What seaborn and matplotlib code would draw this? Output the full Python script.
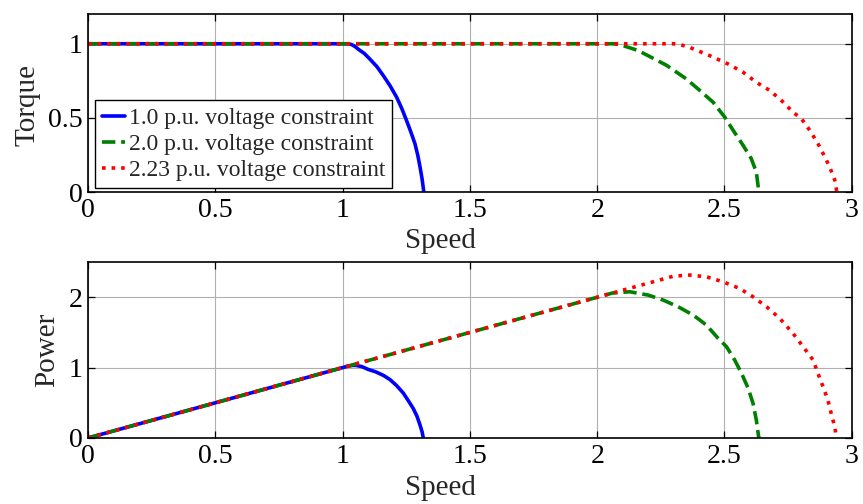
import matplotlib
matplotlib.use("Agg")
import matplotlib.pyplot as plt
import seaborn as sns

# ── data (speed in p.u.) ─────────────────────────────────────
spd_t_10 = [0, 1.02, 1.035, 1.05, 1.061, 1.085, 1.107, 1.135, 1.160, 1.187,
            1.212, 1.232, 1.251, 1.268, 1.284, 1.295, 1.304, 1.312, 1.319]
torque_10 = [1, 1, 0.995, 0.98, 0.964, 0.935, 0.897, 0.845, 0.785, 0.715,
             0.640, 0.565, 0.483, 0.405, 0.327, 0.25, 0.170, 0.09, 0.0]

spd_t_20 = [0, 2.06, 2.08, 2.102, 2.16, 2.213, 2.272, 2.350, 2.403, 2.455, 2.501,
            2.534, 2.573, 2.605, 2.625, 2.634, 2.637]
torque_20 = [1, 1, 0.997, 0.987, 0.955, 0.908, 0.855, 0.763, 0.685, 0.606, 0.505,
             0.416, 0.315, 0.226, 0.136, 0.013, 0.0]

spd_t_223 = [0, 2.30, 2.33, 2.364, 2.443, 2.515, 2.573, 2.625, 2.678, 2.724, 2.769,
             2.802, 2.835, 2.867, 2.894, 2.913, 2.933, 2.939, 2.941]
torque_223 = [1, 1, 0.992, 0.975, 0.919, 0.863, 0.808, 0.740, 0.685, 0.617, 0.539,
              0.495, 0.416, 0.327, 0.237, 0.170, 0.081, 0.025, 0.0]

spd_p_10 = [0, 1.02, 1.035, 1.05, 1.075, 1.10, 1.13, 1.16, 1.186, 1.212,
            1.238, 1.258, 1.277, 1.292, 1.304, 1.312, 1.317]
power_10 = [0, 1.02, 1.03, 1.033, 1.015, 0.975, 0.94, 0.89, 0.83, 0.745,
            0.64, 0.53, 0.422, 0.31, 0.185, 0.09, 0.0]

spd_p_20 = [0, 2.06, 2.128, 2.200, 2.259, 2.318, 2.377, 2.429, 2.475, 2.508,
            2.540, 2.567, 2.593, 2.612, 2.625, 2.634, 2.637]
power_20 = [0, 2.06, 2.078, 2.031, 1.960, 1.865, 1.747, 1.605, 1.416, 1.297,
            1.108, 0.919, 0.706, 0.493, 0.256, 0.018, 0.0]

spd_p_223 = [0, 2.30, 2.364, 2.429, 2.494, 2.559, 2.612, 2.665, 2.717, 2.769,
             2.809, 2.848, 2.867, 2.887, 2.906, 2.919, 2.933, 2.937, 2.941]
power_223 = [0, 2.30, 2.315, 2.291, 2.220, 2.126, 2.007, 1.865, 1.700, 1.487,
             1.297, 1.108, 0.919, 0.729, 0.540, 0.351, 0.161, 0.067, 0.0]

labels = ["1.0 p.u. voltage constraint",
          "2.0 p.u. voltage constraint",
          "2.23 p.u. voltage constraint"]
x_ticks = [0, 0.5, 1, 1.5, 2, 2.5, 3]
torque_ticks = [0, 0.5, 1]
power_ticks = [0, 1, 2]

# ── style ────────────────────────────────────────────────────
sns.set_style("ticks")
plt.rcParams['font.family'] = ['Liberation Serif', 'DejaVu Serif']

fig = plt.figure(figsize=(8.63, 5.04), dpi=100)
ax1 = fig.add_axes([0.102, 0.619, 0.885, 0.353])
ax2 = fig.add_axes([0.102, 0.131, 0.885, 0.349])

styles = [dict(color='blue', linestyle='-'),
          dict(color='green', linestyle='--'),
          dict(color='red', linestyle=':')]
lw = 2.6

torque_sets = [(spd_t_10, torque_10), (spd_t_20, torque_20), (spd_t_223, torque_223)]
power_sets = [(spd_p_10, power_10), (spd_p_20, power_20), (spd_p_223, power_223)]

for (x, y), st, lab in zip(torque_sets, styles, labels):
    sns.lineplot(x=x, y=y, ax=ax1, sort=False, linewidth=lw, label=lab,
                 dash_capstyle='butt', **st)
for (x, y), st in zip(power_sets, styles):
    sns.lineplot(x=x, y=y, ax=ax2, sort=False, linewidth=lw, legend=False,
                 dash_capstyle='butt', **st)

for ax, yl, yt, ylim, ylc, xlc in [
        (ax1, "Torque", torque_ticks, (0, 1.2), (-0.062, 0.49), (0.462, -0.2)),
        (ax2, "Power", power_ticks, (0, 2.5), (-0.036, 0.5), (0.462, -0.21))]:
    ax.set_xlim(0, 3)
    ax.set_ylim(*ylim)
    ax.set_xticks(x_ticks)
    ax.set_xticklabels([f"{t:g}" for t in x_ticks])
    ax.set_yticks(yt)
    ax.set_yticklabels([f"{t:g}" for t in yt])
    ax.grid(True, color='#b0b0b0', linewidth=0.8)
    ax.set_axisbelow(True)
    ax.tick_params(direction='in', top=True, right=True, length=5, width=0.9,
                   labelsize=20, pad=4, colors='black')
    for s in ax.spines.values():
        s.set_linewidth(1.2)
        s.set_color('black')
    ax.set_xlabel("Speed", fontsize=21)
    ax.set_ylabel(yl, fontsize=21)
    ax.xaxis.set_label_coords(*xlc)
    ax.yaxis.set_label_coords(*ylc)

leg = ax1.legend(loc='lower left', bbox_to_anchor=(0.004, 0.0), fontsize=17,
                 frameon=True, fancybox=False, framealpha=1, edgecolor='black',
                 borderpad=0.3, labelspacing=0.2, handlelength=1.0,
                 handletextpad=0.15, borderaxespad=0.15)
leg.get_frame().set_linewidth(1.0)

fig.savefig("out.png", dpi=100)
